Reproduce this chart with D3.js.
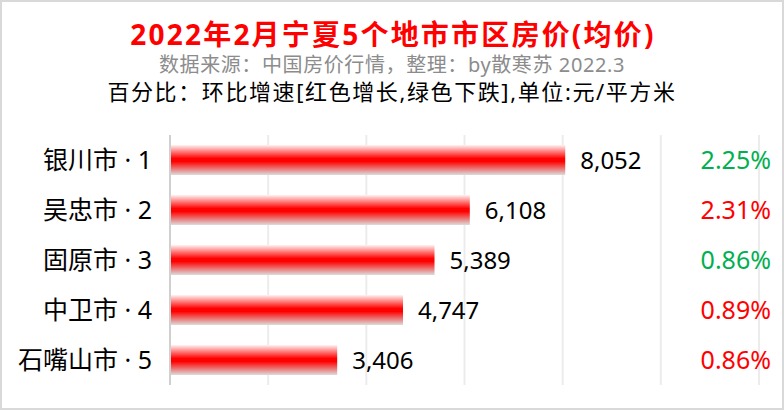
<!DOCTYPE html>
<html>
<head>
<meta charset="utf-8">
<script src="https://cdn.jsdelivr.net/npm/d3@7"></script>
<style>
  body { margin: 0; background: #fff; }
  svg { display: block; }
  text { font-family: "Noto Sans", "Noto Sans CJK SC", sans-serif; }
</style>
</head>
<body>
<div id="chart"></div>
<script>
// 数据
const cities = ["银川市", "吴忠市", "固原市", "中卫市", "石嘴山市"];
const prices = [8052, 6108, 5389, 4747, 3406];
const changes = [2.25, 2.31, 0.86, 0.89, 0.86];
const trend = ["down", "up", "down", "up", "up"]; // 红色增长, 绿色下跌
const xTicks = [0, 2000, 4000, 6000, 8000, 10000, 12000];

const width = 784, height = 410;
const margin = {top: 135, right: 25, bottom: 25, left: 170};

const svg = d3.select("#chart").append("svg")
    .attr("width", width)
    .attr("height", height);

// 外框
svg.append("rect")
    .attr("x", 1).attr("y", 1)
    .attr("width", width - 2).attr("height", height - 2)
    .attr("fill", "#fff")
    .attr("stroke", "#d9d9d9")
    .attr("stroke-width", 2);

const x = d3.scaleLinear()
    .domain([0, 12000])
    .range([margin.left, width - margin.right]);

const y = d3.scaleBand()
    .domain(cities)
    .range([margin.top, height - margin.bottom])
    .paddingInner(0.4)
    .paddingOuter(0.2);

// 渐变
const grad = svg.append("defs").append("linearGradient")
    .attr("id", "barGrad")
    .attr("x1", 0).attr("y1", 0).attr("x2", 0).attr("y2", 1);
grad.append("stop").attr("offset", "0%").attr("stop-color", "#fff2f2");
grad.append("stop").attr("offset", "45%").attr("stop-color", "#ff0000");
grad.append("stop").attr("offset", "55%").attr("stop-color", "#ff0000");
grad.append("stop").attr("offset", "100%").attr("stop-color", "#dcdcdc");

// 网格线
svg.append("g")
  .selectAll("line")
  .data(xTicks.slice(1))
  .join("line")
    .attr("x1", d => x(d)).attr("x2", d => x(d))
    .attr("y1", margin.top).attr("y2", height - margin.bottom)
    .attr("stroke", "#ececec")
    .attr("stroke-width", 2);

// 柱子
svg.append("g")
  .selectAll("rect")
  .data(cities)
  .join("rect")
    .attr("x", x(0))
    .attr("y", d => y(d))
    .attr("width", (d, i) => x(prices[i]) - x(0))
    .attr("height", y.bandwidth())
    .attr("fill", "url(#barGrad)");

// 纵轴线
svg.append("line")
    .attr("x1", x(0)).attr("x2", x(0))
    .attr("y1", margin.top).attr("y2", height - margin.bottom)
    .attr("stroke", "#d0d0d0")
    .attr("stroke-width", 2);

const mid = d => y(d) + y.bandwidth() / 2;

// 城市标签
svg.append("g")
  .selectAll("text")
  .data(cities)
  .join("text")
    .attr("x", 152)
    .attr("y", mid)
    .attr("dy", "0.36em")
    .attr("text-anchor", "end")
    .attr("font-size", 25)
    .attr("fill", "#000")
    .text((d, i) => d + " · " + (i + 1));

// 数值标签
svg.append("g")
  .selectAll("text")
  .data(cities)
  .join("text")
    .attr("x", (d, i) => x(prices[i]) + 15)
    .attr("y", mid)
    .attr("dy", "0.36em")
    .attr("font-size", 24)
    .attr("fill", "#000")
    .text((d, i) => d3.format(",")(prices[i]));

// 环比
svg.append("g")
  .selectAll("text")
  .data(cities)
  .join("text")
    .attr("x", 771)
    .attr("y", mid)
    .attr("dy", "0.36em")
    .attr("text-anchor", "end")
    .attr("font-size", 25)
    .attr("fill", (d, i) => trend[i] == "up" ? "#ff0000" : "#00b050")
    .text((d, i) => changes[i].toFixed(2) + "%");

// 标题
svg.append("text")
    .attr("x", width / 2 + 1).attr("y", 45)
    .attr("text-anchor", "middle")
    .attr("font-size", 28)
    .attr("letter-spacing", 2.2)
    .attr("font-weight", "bold")
    .attr("fill", "#ff0000")
    .text("2022年2月宁夏5个地市市区房价(均价)");

svg.append("text")
    .attr("x", width / 2).attr("y", 72)
    .attr("text-anchor", "middle")
    .attr("font-size", 20)
    .attr("letter-spacing", 0.6)
    .attr("fill", "#8c8c8c")
    .text("数据来源：中国房价行情，整理：by散寒苏 2022.3");

svg.append("text")
    .attr("x", width / 2).attr("y", 100)
    .attr("text-anchor", "middle")
    .attr("font-size", 22)
    .attr("letter-spacing", 1.6)
    .attr("fill", "#000")
    .text("百分比：环比增速[红色增长,绿色下跌],单位:元/平方米");
</script>
</body>
</html>
